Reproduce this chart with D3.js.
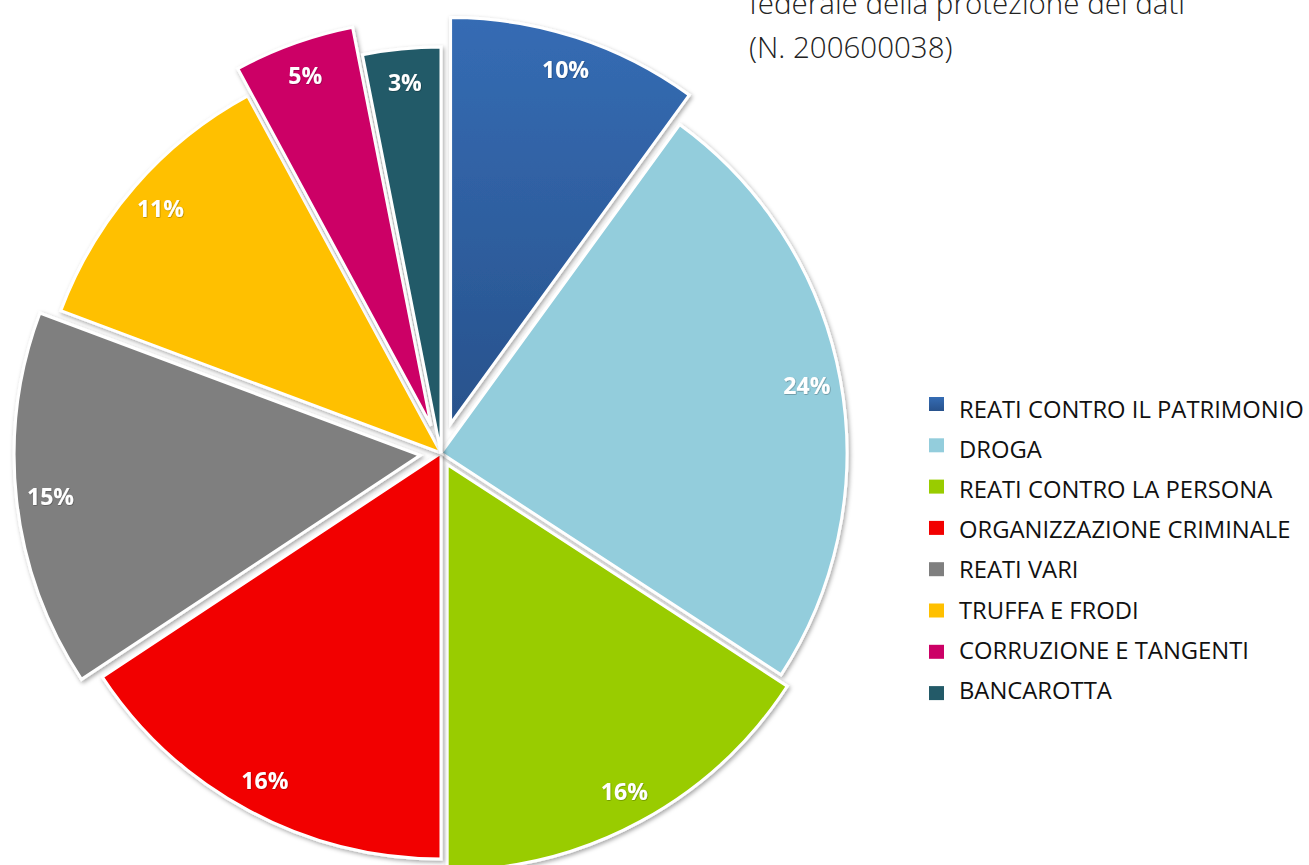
<!DOCTYPE html>
<html>
<head>
<meta charset="utf-8">
<script src="https://cdn.jsdelivr.net/npm/d3@7"></script>
<style>
  html, body { margin: 0; padding: 0; background: #fff; }
  svg { display: block; }
</style>
</head>
<body>
<svg id="chart" width="1309" height="865"></svg>
<script>
// ---- data ----
const categories = [
  "REATI CONTRO IL PATRIMONIO",
  "DROGA",
  "REATI CONTRO LA PERSONA",
  "ORGANIZZAZIONE CRIMINALE",
  "REATI VARI",
  "TRUFFA E FRODI",
  "CORRUZIONE E TANGENTI",
  "BANCAROTTA"
];
const values = [10.0, 24.2, 15.8, 15.7, 15.0, 11.4, 4.8, 3.1];
const titleLines = ["federale della protezione dei dati", "(N. 200600038)"];

// ---- style ----
const colors = ["#3066AE", "#93CDDC", "#99CC00", "#F20000", "#7F7F7F", "#FFC000", "#CC0066", "#235A68"];
const pullOut = [31, 0, 13, 0, 21, 0, 29, 0];

const svg = d3.select("#chart");
const cx = 441, cy = 453, R = 406, labelR = 372;

const defs = svg.append("defs");
const shadow = defs.append("filter").attr("id", "shadow")
  .attr("x", "-10%").attr("y", "-10%").attr("width", "130%").attr("height", "130%");
shadow.append("feDropShadow").attr("dx", 1.5).attr("dy", 2).attr("stdDeviation", 2)
  .attr("flood-color", "#000").attr("flood-opacity", 0.35);

const blueGrad = defs.append("linearGradient").attr("id", "blueGrad")
  .attr("x1", 0).attr("y1", 0).attr("x2", 0).attr("y2", 1);
blueGrad.append("stop").attr("offset", "0%").attr("stop-color", "#356CB4");
blueGrad.append("stop").attr("offset", "100%").attr("stop-color", "#28528C");

const legGrad = defs.append("linearGradient").attr("id", "legGrad")
  .attr("x1", 0).attr("y1", 0).attr("x2", 0).attr("y2", 1);
legGrad.append("stop").attr("offset", "0%").attr("stop-color", "#356CB4");
legGrad.append("stop").attr("offset", "100%").attr("stop-color", "#28528C");

const labelShadow = defs.append("filter").attr("id", "lblShadow");
labelShadow.append("feDropShadow").attr("dx", 0.5).attr("dy", 0.5).attr("stdDeviation", 0.6)
  .attr("flood-color", "#000").attr("flood-opacity", 0.45);

const pie = d3.pie().sort(null).value(d => d)(values);
const arc = d3.arc().innerRadius(0).outerRadius(R);
const labelArc = d3.arc().innerRadius(labelR).outerRadius(labelR);

const g = svg.append("g").attr("transform", `translate(${cx},${cy})`);

const slices = g.selectAll("g.slice").data(pie).enter().append("g")
  .attr("class", "slice")
  .attr("transform", (d, i) => {
    const a = (d.startAngle + d.endAngle) / 2;
    return `translate(${Math.sin(a) * pullOut[i]},${-Math.cos(a) * pullOut[i]})`;
  });

slices.append("path")
  .attr("d", arc)
  .attr("fill", (d, i) => i === 0 ? "url(#blueGrad)" : colors[i])
  .attr("stroke", "#fff")
  .attr("stroke-width", 3)
  .attr("stroke-linejoin", "miter")
  .attr("filter", "url(#shadow)");

slices.append("text")
  .attr("transform", d => `translate(${labelArc.centroid(d)})`)
  .attr("text-anchor", "middle")
  .attr("dy", "0.35em")
  .attr("fill", "#fff")
  .attr("font-family", "'Open Sans', sans-serif")
  .attr("font-weight", 700)
  .attr("font-size", 23)
  .attr("filter", "url(#lblShadow)")
  .text(d => Math.round(d.data) + "%");

// ---- legend ----
const legend = svg.append("g");
categories.forEach((c, i) => {
  legend.append("rect")
    .attr("x", 929).attr("y", 397 + i * 41.3)
    .attr("width", 15).attr("height", 14)
    .attr("fill", i === 0 ? "url(#legGrad)" : colors[i]);
  legend.append("text")
    .attr("x", 959).attr("y", 418 + i * 40.1)
    .attr("font-family", "'Open Sans', sans-serif")
    .attr("font-size", 23.8)
    .attr("fill", "#111")
    .text(c);
});

// ---- title (partially outside the top edge) ----
titleLines.forEach((t, i) => {
  svg.append("text")
    .attr("x", 749).attr("y", 14 + i * 44)
    .attr("font-family", "'Open Sans', sans-serif")
    .attr("font-weight", 300)
    .attr("font-size", 29.5)
    .attr("fill", "#222")
    .text(t);
});
</script>
</body>
</html>
